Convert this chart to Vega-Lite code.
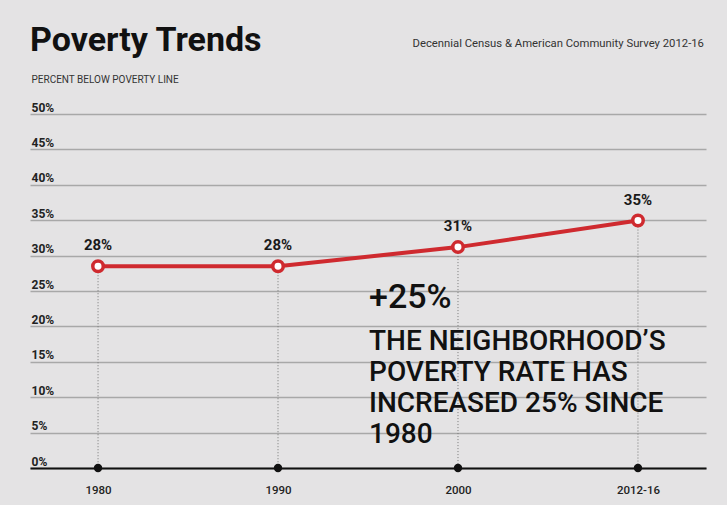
{
  "$schema": "https://vega.github.io/schema/vega-lite/v6.json",
  "width": 676,
  "height": 354,
  "autosize": {"type": "none"},
  "padding": {"left": 30, "top": 114, "right": 21, "bottom": 37},
  "background": "#e4e3e4",
  "title": {
    "text": "Poverty Trends",
    "anchor": "start",
    "frame": "group",
    "font": "Roboto",
    "fontSize": 34,
    "fontWeight": "bold",
    "color": "#111111",
    "baseline": "alphabetic",
    "offset": -47
  },
  "config": {
    "view": {"stroke": null},
    "font": "Roboto"
  },
  "data": {
    "values": [
      {"period": "1980", "value": 28.5, "label": "28%"},
      {"period": "1990", "value": 28.5, "label": "28%"},
      {"period": "2000", "value": 31.2, "label": "31%"},
      {"period": "2012-16", "value": 34.95, "label": "35%"}
    ]
  },
  "encoding": {
    "x": {
      "field": "period",
      "type": "ordinal",
      "sort": null,
      "scale": {"type": "point", "padding": 0.378},
      "axis": {
        "title": null,
        "labelAngle": 0,
        "domain": true,
        "domainColor": "#111111",
        "domainWidth": 2,
        "ticks": false,
        "grid": false,
        "labelPadding": 16,
        "labelFont": "Roboto",
        "labelFontSize": 11.5,
        "labelFontWeight": 500,
        "labelColor": "#222222",
        "zindex": 1
      }
    },
    "y": {
      "field": "value",
      "type": "quantitative",
      "scale": {"domain": [0, 50], "nice": false, "zero": true},
      "axis": {
        "title": "PERCENT BELOW POVERTY LINE",
        "titleAngle": 0,
        "titleAlign": "left",
        "titleBaseline": "alphabetic",
        "titleX": 1,
        "titleY": -32,
        "titleFont": "Roboto",
        "titleFontSize": 10,
        "titleFontWeight": "normal",
        "titleColor": "#333333",
        "values": [0, 5, 10, 15, 20, 25, 30, 35, 40, 45, 50],
        "labelExpr": "datum.value + '%'",
        "grid": true,
        "gridColor": "#a8a8a8",
        "gridWidth": 1.5,
        "domain": false,
        "ticks": false,
        "labelAlign": "left",
        "labelBaseline": "bottom",
        "labelPadding": -1,
        "labelDy": -4,
        "labelFont": "Roboto",
        "labelFontSize": 12,
        "labelFontWeight": "bold",
        "labelColor": "#222222"
      }
    }
  },
  "layer": [
    {
      "mark": {"type": "rule", "color": "#777777", "strokeWidth": 1, "strokeDash": [1, 2]},
      "encoding": {"y2": {"datum": 0}}
    },
    {
      "mark": {"type": "circle", "color": "#111111", "opacity": 1, "size": 70},
      "encoding": {"y": {"datum": 0}}
    },
    {
      "mark": {"type": "line", "color": "#cf2a2f", "strokeWidth": 4}
    },
    {
      "mark": {"type": "point", "shape": "circle", "filled": true, "fill": "#ffffff", "stroke": "#cf2a2f", "strokeWidth": 3.5, "size": 110, "opacity": 1}
    },
    {
      "mark": {"type": "text", "baseline": "alphabetic", "dy": -16, "font": "Roboto", "fontSize": 15, "fontWeight": "bold", "color": "#1a1a1a"},
      "encoding": {"text": {"field": "label"}}
    },
    {
      "data": {"values": [{"period": "1990", "value": 22.6, "note": "+25%"}]},
      "mark": {"type": "text", "align": "left", "baseline": "alphabetic", "dx": 91, "font": "Roboto", "fontSize": 34, "fontWeight": 500, "color": "#111111"},
      "encoding": {"text": {"field": "note"}}
    },
    {
      "data": {"values": [{"period": "1990", "value": 16.67, "note": ["THE NEIGHBORHOOD’S", "POVERTY RATE HAS", "INCREASED 25% SINCE", "1980"]}]},
      "mark": {"type": "text", "align": "left", "baseline": "alphabetic", "dx": 91, "lineHeight": 31, "font": "Roboto", "fontSize": 28, "fontWeight": 500, "color": "#111111"},
      "encoding": {"text": {"field": "note"}}
    },
    {
      "data": {"values": [{"period": "2012-16", "value": 59.4, "note": "Decennial Census & American Community Survey 2012-16"}]},
      "mark": {"type": "text", "align": "right", "baseline": "alphabetic", "dx": 66, "font": "Roboto", "fontSize": 11.3, "color": "#333333", "clip": false},
      "encoding": {"text": {"field": "note"}}
    }
  ]
}
